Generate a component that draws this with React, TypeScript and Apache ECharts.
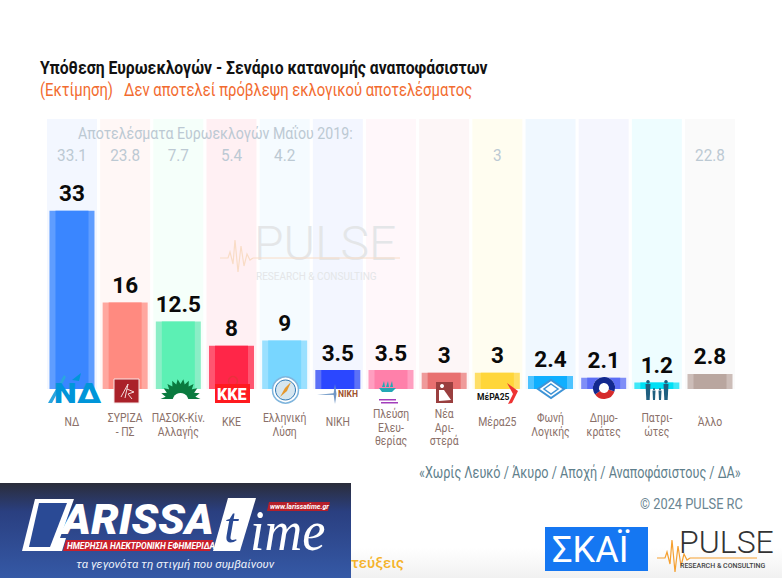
import React, { useEffect, useRef } from "react";
import * as echarts from "echarts";

const categories = ["ΝΔ", "ΣΥΡΙΖΑ\n- ΠΣ", "ΠΑΣΟΚ-Κίν.\nΑλλαγής", "ΚΚΕ", "Ελληνική\nΛύση", "ΝΙΚΗ", "Πλεύση\nΕλευ-\nθερίας", "Νέα\nΑρι-\nστερά", "Μέρα25", "Φωνή\nΛογικής", "Δημο-\nκράτες", "Πατρι-\nώτες", "Άλλο"];
const estimate = [33, 16, 12.5, 8, 9, 3.5, 3.5, 3, 3, 2.4, 2.1, 1.2, 2.8];
const results2019 = ["33.1", "23.8", "7.7", "5.4", "4.2", "", "", "", "3", "", "", "", "22.8"];
const columnMax = [50, 50, 50, 50, 50, 50, 50, 50, 50, 50, 50, 50, 50];
const innerColors = ["#3a86ff", "#ff8a80", "#5cf0b4", "#ff2648", "#78d6ff", "#2b47ff", "#ff80aa", "#e87070", "#ffd63a", "#0fafff", "#5b6cf5", "#00e0f5", "#b9a69f"];
const outerColors = ["#5f9dff", "#ffa79f", "#8aeec6", "#ff5570", "#9ae0ff", "#5c71f7", "#ff9ec0", "#ef9a9a", "#ffdf66", "#4dc3ff", "#7f8ef7", "#40e8f8", "#ccbdb8"];
const columnColors = ["#f3f7ff", "#fff7f6", "#f5fffa", "#fff0f3", "#f5fbff", "#f3f6ff", "#fff7fa", "#fdf6f7", "#fffdf0", "#f0f8ff", "#f5f6fe", "#eefdff", "#fafafa"];

const ROBOTO = "Roboto, sans-serif";

function sunPoints(cx: number, cy: number, r1: number, r2: number, n: number) {
  const pts: number[][] = [];
  for (let i = 0; i <= n * 2; i++) {
    const a = Math.PI + (Math.PI * i) / (n * 2);
    const r = i % 2 ? r2 : r1;
    pts.push([cx + r * Math.cos(a), cy + r * Math.sin(a)]);
  }
  return pts;
}

function txt(x: number, y: number, text: string, fontSize: number, fill: string, o: any = {}) {
  const { scaleX, opacity, ...style } = o;
  return {
    type: "text", x, y, z: 100, scaleX: scaleX ?? 1, silent: true,
    style: { text, fontSize, fill, fontFamily: ROBOTO, verticalAlign: "middle", opacity, ...style },
  };
}
const rect = (x: number, y: number, width: number, height: number, fill: any, o: any = {}) => ({ type: "rect", z: 100, silent: true, shape: { x, y, width, height }, style: { fill, ...o } });
const poly = (points: number[][], fill: string, o: any = {}) => ({ type: "polygon", z: 100, silent: true, shape: { points }, style: { fill, ...o } });
const circ = (cx: number, cy: number, r: number, fill: any, o: any = {}) => ({ type: "circle", z: 100, silent: true, shape: { cx, cy, r }, style: { fill, ...o } });
const line = (points: number[][], stroke: string, lineWidth: number) => ({ type: "polyline", z: 100, silent: true, shape: { points }, style: { stroke, lineWidth, fill: "none" } });

function figure(x: number, top: number, h: number, c: string) {
  const w = h * 0.25;
  return [circ(x, top + h * 0.09, h * 0.09, c), poly([[x - w / 2, top + h * 0.2], [x + w / 2, top + h * 0.2], [x + w / 3, top + h], [x - w / 3, top + h]], c)];
}

const pulseWave = (x: number, y: number, k: number) => [[0, 0], [8, 0], [10, -6], [13, 6], [15, -18], [18, 14], [21, -12], [24, 8], [27, -4], [30, 2], [33, 0]].map(([a, b]) => [x + a * k, y + b * k]);

const graphics: any[] = [
  // headings
  txt(40, 68, "Υπόθεση Ευρωεκλογών - Σενάριο κατανομής αναποφάσιστων", 18, "#111111", { fontWeight: 700, scaleX: 0.875 }),
  txt(40, 90, "(Εκτίμηση)   Δεν αποτελεί πρόβλεψη εκλογικού αποτελέσματος", 17.5, "#f26b2f", { scaleX: 0.847 }),
  txt(78, 134, "Αποτελέσματα Ευρωεκλογών Μαΐου 2019:", 16.5, "#bcc9d3", { scaleX: 0.86 }),
  // watermark
  txt(254, 243, "PULSE", 48, "#e4e6e8", { fontWeight: 300, letterSpacing: 4 }),
  txt(256, 276, "RESEARCH & CONSULTING", 10, "#e4e6e8", { letterSpacing: 1.9 }),
  line(pulseWave(220, 258, 1), "#f9dcc6", 1.2),
  line([[253, 258], [400, 258]], "#f9dcc6", 1),
  // ΝΔ
  poly([[48, 403], [64, 375], [66, 377], [52, 403]], "#2aa5e0"),
  poly([[72, 380], [81, 373], [79, 381]], "#0095d9"),
  txt(54, 393, "ΝΔ", 28, "#0095d9", { fontWeight: 900, scaleX: 1.15 }),
  // ΣΥΡΙΖΑ
  rect(114, 379, 25, 24, "#aa2129", { stroke: "#f6e6e6", lineWidth: 1 }),
  line([[121, 397], [128, 384], [125, 398]], "#f4dcdc", 1),
  line([[127, 389], [134, 392], [128, 394], [132, 399]], "#f4dcdc", 1),
  // ΠΑΣΟΚ
  poly(sunPoints(180.5, 399, 20, 15, 11), "#0a7a3f"),
  circ(180.5, 401, 8, "#ffffff"),
  // ΚΚΕ
  circ(233, 381, 4.5, "none", { stroke: "#e8323c", lineWidth: 1.3 }),
  rect(215, 384, 35, 19, "#ff1a1f"),
  txt(217, 394, "ΚΚΕ", 16, "#ffffff", { fontWeight: 900 }),
  // Ελληνική Λύση
  circ(285.5, 390, 13, "#ffffff", { stroke: "#7fb5dd", lineWidth: 1.5 }),
  circ(285.5, 390, 10, "#d6e6f0", { stroke: "#2e78b5", lineWidth: 1 }),
  poly([[280, 397], [285, 388], [291, 382], [287, 391]], "#e5982d"),
  // ΝΙΚΗ
  poly([[317, 395], [335, 393], [335, 395]], "#7ea3cc"),
  poly([[335, 384], [336.5, 394], [335, 404], [333.5, 394]], "#6f95c4"),
  txt(338, 394, "ΝΙΚΗ", 8.5, "#a0522d", { fontWeight: 700, letterSpacing: 0.6 }),
  // Πλεύση
  poly([[379, 388], [396, 388], [392, 392], [382, 392]], "#23a8b5"),
  poly([[382, 387], [384, 381], [385, 387]], "#23a8b5"),
  poly([[386, 387], [388, 381], [389, 387]], "#23a8b5"),
  poly([[390, 387], [392, 381], [393, 387]], "#23a8b5"),
  rect(379, 399, 17, 1.5, "#a23dbb"),
  rect(381, 402, 17, 1.5, "#a23dbb"),
  // Νέα Αριστερά
  rect(436, 382, 17, 21, "#9a3f3f"),
  circ(442, 386, 2, "#ffffff"),
  poly([[439, 390], [444, 390], [451, 400], [439, 401]], "#ffffff"),
  // Μέρα25
  txt(477, 397, "ΜέΡΑ25", 8.5, "#111111", { fontWeight: 700 }),
  poly([[507, 383], [518, 391], [512, 403], [508, 404], [513, 394]], "#ee3333"),
  // Φωνή Λογικής
  poly([[551, 380], [564, 389], [551, 398], [538, 389]], "#ffffff", { stroke: "#3d93d6", lineWidth: 2 }),
  poly([[551, 384], [558, 389], [551, 394], [544, 389]], "none", { stroke: "#3d93d6", lineWidth: 1.5 }),
  // Δημοκράτες
  circ(604, 388, 11, "#ffffff"),
  { type: "arc", z: 100, silent: true, shape: { cx: 604, cy: 388, r: 8, startAngle: Math.PI * 0.1, endAngle: Math.PI * 0.8, clockwise: true }, style: { stroke: "#d62b2b", lineWidth: 6, fill: "none" } },
  { type: "arc", z: 100, silent: true, shape: { cx: 604, cy: 388, r: 8, startAngle: Math.PI * 0.8, endAngle: Math.PI * 2.1, clockwise: true }, style: { stroke: "#12288f", lineWidth: 6, fill: "none" } },
  // Πατριώτες
  ...figure(648, 380, 20, "#1f5f80"),
  ...figure(654, 388, 12, "#1f5f80"),
  ...figure(660, 388, 12, "#1f5f80"),
  ...figure(666, 380, 20, "#1f5f80"),
  // footer
  txt(419, 473, "«Χωρίς Λευκό / Άκυρο / Αποχή / Αναποφάσιστους / ΔΑ»", 16, "#5f7f8c", { scaleX: 0.79 }),
  txt(640, 504, "© 2024 PULSE RC", 15.5, "#6a8592", { scaleX: 0.827 }),
  rect(351, 548, 431, 30, new echarts.graphic.LinearGradient(0, 0, 0, 1, [{ offset: 0, color: "#ffffff" }, { offset: 1, color: "#f1f1f1" }])),
  txt(351, 563, "τεύξεις", 15, "#f5b32a", { fontWeight: 500 }),
  // banner
  rect(0, 483, 351, 95, new echarts.graphic.LinearGradient(0, 0, 0, 1, [{ offset: 0, color: "#2b2d3a" }, { offset: 0.3, color: "#2a3f80" }, { offset: 1, color: "#3559a6" }])),
  poly([[35, 499], [74, 499], [60, 538], [66, 538], [62, 551], [22, 551]], "#ffffff"),
  poly([[39, 503], [67, 503], [50, 547], [29, 547]], "#2a4a95"),
  txt(62, 520, "ARISSA", 43, "#ffffff", { fontWeight: 900, fontStyle: "italic", scaleX: 1.02 }),
  poly([[66, 540], [213, 540], [210, 551], [63, 551]], "#c8202c"),
  txt(67, 546, "ΗΜΕΡΗΣΙΑ ΗΛΕΚΤΡΟΝΙΚΗ ΕΦΗΜΕΡΙΔΑ", 8.4, "#ffffff", { fontWeight: 700, fontStyle: "italic" }),
  poly([[228, 498], [256, 498], [240, 551], [213, 551]], "#ffffff"),
  txt(224, 525, "t", 50, "#2a4a95", { fontStyle: "italic", fontFamily: "'Liberation Serif', serif" }),
  txt(250, 531, "ime", 58, "#ffffff", { fontFamily: "'Liberation Serif', serif", fontStyle: "italic", scaleX: 0.9 }),
  poly([[269, 502], [330, 502], [328, 511], [267, 511]], "#b51f2a"),
  txt(270, 507, "www.larissatime.gr", 7, "#ffffff", { fontWeight: 700, fontStyle: "italic" }),
  txt(76, 564, "τα γεγονότα τη στιγμή που συμβαίνουν", 11.6, "#eef2fa", { fontStyle: "italic" }),
  // ΣΚΑΪ
  rect(545, 527, 103, 44, "#1577f2"),
  txt(552, 550, "ΣΚΑΪ", 36, "#ffffff", { fontWeight: 400, letterSpacing: 9 }),
  // PULSE
  line(pulseWave(657, 558, 1), "#f5a030", 1.2),
  line([[690, 558], [757, 558]], "#f5a030", 1),
  txt(679, 542, "PULSE", 32, "#333333", { fontWeight: 300, letterSpacing: 2 }),
  txt(680, 566, "RESEARCH & CONSULTING", 7, "#444444", { fontWeight: 500, letterSpacing: 0.9 }),
];

const plainAxis = () => ({
  type: "category", data: categories, gridIndex: 0, position: "bottom",
  axisLine: { show: false }, axisTick: { show: false }, splitLine: { show: false }, axisLabel: { show: false },
});

// Category names and 2019 results, placed from the axis scale and condensed like the reference's type.
function renderColumnTexts(_: any, api: any) {
  const i = api.value(0);
  const [x, y0] = api.coord([i, 0]);
  const [, yTop] = api.coord([i, 50]);
  const name = categories[i];
  const lines = name.split("\n").length;
  const nameOffset = lines === 1 ? 33 : lines === 2 ? 35.5 : 38.5;
  return {
    type: "group",
    children: [
      { type: "text", x, y: y0 + nameOffset, scaleX: 0.77, style: { text: name, textAlign: "center", verticalAlign: "middle", fontSize: 13.5, lineHeight: 13.5, fill: "#8a6f68", fontFamily: ROBOTO } },
      { type: "text", x, y: yTop + 36, scaleX: 0.9, style: { text: results2019[i], textAlign: "center", verticalAlign: "middle", fontSize: 17, fill: "#bcc9d3", fontFamily: ROBOTO } },
    ],
  };
}

export default function App() {
  const ref = useRef<HTMLDivElement>(null);
  useEffect(() => {
    document.body.style.margin = "0";
    const chart = echarts.init(ref.current!, undefined, { renderer: "svg" });
    chart.setOption({
      animation: false,
      backgroundColor: "#ffffff",
      grid: { left: 45.4, right: 45.4, top: 119, bottom: 189, containLabel: false },
      xAxis: [plainAxis(), plainAxis(), plainAxis()],
      yAxis: { type: "value", min: 0, max: 50, show: false },
      series: [
        {
          type: "bar", xAxisIndex: 0, data: columnMax, barWidth: 50, silent: true,
          itemStyle: { color: (p: any) => columnColors[p.dataIndex] },
        },
        {
          type: "bar", xAxisIndex: 1, data: estimate, barWidth: 45, silent: true,
          itemStyle: { color: (p: any) => outerColors[p.dataIndex] },
        },
        {
          type: "bar", xAxisIndex: 2, data: estimate, barWidth: 33, silent: true,
          itemStyle: { color: (p: any) => innerColors[p.dataIndex] },
          label: { show: true, position: "top", distance: 6, color: "#0a0a0a", fontSize: 22.5, fontWeight: 700, fontFamily: ROBOTO },
        },
        {
          type: "custom", xAxisIndex: 0, silent: true, z: 5, clip: false,
          data: categories.map((_, i) => [i, 0]),
          encode: { x: 0, y: 1 },
          renderItem: renderColumnTexts,
        },
      ],
      graphic: graphics,
    });
    return () => chart.dispose();
  }, []);
  return <div ref={ref} style={{ position: "absolute", left: 0, top: 0, width: 782, height: 578 }} />;
}
